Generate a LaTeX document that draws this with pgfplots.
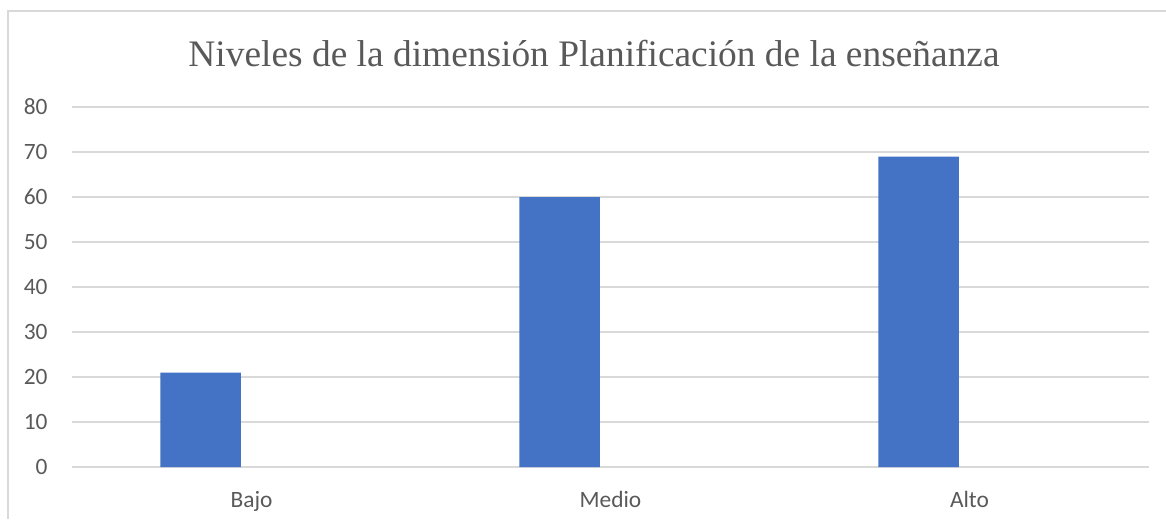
\documentclass[border=0pt]{standalone}
\usepackage{fontspec}
\setmainfont{Liberation Serif}
\newfontfamily\carlito{Carlito}
\usepackage{pgfplots}
\pgfplotsset{compat=1.18}
\definecolor{barblue}{HTML}{4472C4}
\definecolor{gridgray}{HTML}{D9D9D9}
\definecolor{txtgray}{HTML}{595959}

\begin{document}
\begin{tikzpicture}
	\useasboundingbox (0,0) rectangle (583pt,259.5pt);
	% chart frame (cropped on right and bottom)
	\draw[gridgray,line width=0.6pt] (4pt,0) -- (4pt,254pt) -- (583pt,254pt);
	\node[txtgray,font=\fontsize{18.7}{22}\selectfont,anchor=base] at (297pt,226pt)
		{Niveles de la dimensión Planificación de la enseñanza};
	\begin{axis}[
			at={(36pt,26pt)}, anchor=south west,
			scale only axis,
			width=538.5pt, height=180pt,
			ybar,
			bar width=40.25pt,
			bar shift=-25.5pt,
			xmin=-0.5, xmax=2.5,
			ymin=0, ymax=80,
			ytick={0,10,...,80},
			xtick=data,
			xticklabels={Bajo,Medio,Alto},
			major tick length=0pt,
			axis line style={draw=none},
			ymajorgrids,
			major grid style={gridgray,line width=0.6pt},
			/pgf/number format/assume math mode=true,
			tick label style={font=\carlito\fontsize{11.7}{13}\selectfont,text=txtgray},
			yticklabel style={inner sep=0pt,anchor=east,xshift=-12pt},
			xticklabel style={inner sep=0pt,anchor=north,yshift=-12pt},
		]
		\addplot[draw=none,fill=barblue] coordinates {(0,21) (1,60) (2,69)};
	\end{axis}
\end{tikzpicture}
\end{document}
